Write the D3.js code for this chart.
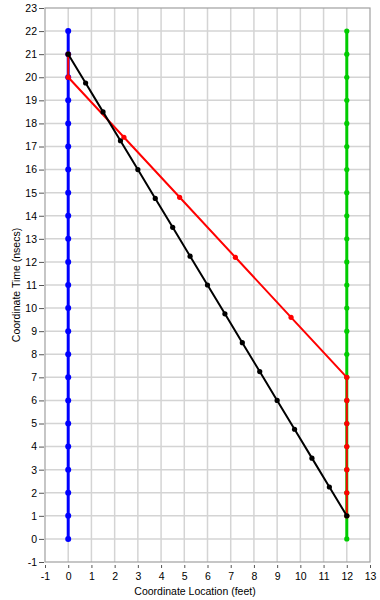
<!DOCTYPE html>
<html><head><meta charset="utf-8">
<script src="https://cdn.jsdelivr.net/npm/d3@7"></script>
<style>body{margin:0;background:#fff}svg{display:block;font-family:"Liberation Sans",Arial,sans-serif}</style>
</head><body><svg id="c" width="380" height="600"></svg>
<script>
const xTicks = [-1,0,1,2,3,4,5,6,7,8,9,10,11,12,13];
const yTicks = [-1,0,1,2,3,4,5,6,7,8,9,10,11,12,13,14,15,16,17,18,19,20,21,22,23];
const blueX = [0,0,0,0,0,0,0,0,0,0,0,0,0,0,0,0,0,0,0,0,0,0,0];
const blueY = [0,1,2,3,4,5,6,7,8,9,10,11,12,13,14,15,16,17,18,19,20,21,22];
const greenX = [12,12,12,12,12,12,12,12,12,12,12,12,12,12,12,12,12,12,12,12,12,12,12];
const greenY = [0,1,2,3,4,5,6,7,8,9,10,11,12,13,14,15,16,17,18,19,20,21,22];
const redX = [0,0,2.4,4.8,7.2,9.6,12,12,12,12,12,12,12];
const redY = [21,20,17.4,14.8,12.2,9.6,7,6,5,4,3,2,1];
const blackX = [0,0.75,1.5,2.25,3,3.75,4.5,5.25,6,6.75,7.5,8.25,9,9.75,10.5,11.25,12];
const blackY = [21,19.75,18.5,17.25,16,14.75,13.5,12.25,11,9.75,8.5,7.25,6,4.75,3.5,2.25,1];

const L=45,R=370,T=8,B=562;
const x=d3.scaleLinear().domain([-1,13]).range([L,R]);
const y=d3.scaleLinear().domain([-1,23]).range([B,T]);
const svg=d3.select("#c");

// grid
svg.append("g").selectAll("line").data(xTicks.slice(1,-1)).join("line")
 .attr("x1",d=>x(d)).attr("x2",d=>x(d)).attr("y1",T).attr("y2",B)
 .attr("stroke","#d4d4d4").attr("stroke-width",1.5);
svg.append("g").selectAll("line").data(yTicks.slice(1,-1)).join("line")
 .attr("y1",d=>y(d)).attr("y2",d=>y(d)).attr("x1",L).attr("x2",R)
 .attr("stroke","#d4d4d4").attr("stroke-width",1.5);

// frame
svg.append("rect").attr("x",L).attr("y",T).attr("width",R-L).attr("height",B-T)
 .attr("fill","none").attr("stroke","#a0a0a0").attr("stroke-width",1.2);

// axes
const fmt=d=>String(d);
const xa=svg.append("g").attr("transform",`translate(0,${B+1})`)
 .call(d3.axisBottom(x).tickValues(xTicks).tickSize(5).tickPadding(5).tickFormat(fmt));
const ya=svg.append("g").attr("transform",`translate(${L-1},0)`)
 .call(d3.axisLeft(y).tickValues(yTicks).tickSize(5).tickPadding(2).tickFormat(fmt));
[xa,ya].forEach(a=>{a.select(".domain").remove();
 a.selectAll(".tick line").attr("stroke","#555");
 a.selectAll("text").attr("fill","#000").style("font-size","10.5px").style("font-family","'Liberation Sans',Arial,sans-serif");});
xa.selectAll(".tick line").attr("y1",2);

svg.append("text").attr("x",195).attr("y",595).attr("text-anchor","middle")
 .style("font-size","10.5px").text("Coordinate Location (feet)");
svg.append("text").attr("transform",`translate(20,${(T+B)/2}) rotate(-90)`).attr("text-anchor","middle")
 .style("font-size","10.5px").text("Coordinate Time (nsecs)");

function series(xs,ys,color,w,r){
 const pts=xs.map((v,i)=>[v,ys[i]]);
 svg.append("path").datum(pts).attr("fill","none").attr("stroke",color).attr("stroke-width",w)
  .attr("d",d3.line().x(d=>x(d[0])).y(d=>y(d[1])));
 svg.append("g").selectAll("circle").data(pts).join("circle")
  .attr("cx",d=>x(d[0])).attr("cy",d=>y(d[1])).attr("r",r).attr("fill",color);
}
series(blueX,blueY,"#0000ff",3,3);
series(greenX,greenY,"#00cc00",3,2.6);
series(redX,redY,"#ff0000",2,2.6);
series(blackX,blackY,"#000000",2,2.6);
</script></body></html>
